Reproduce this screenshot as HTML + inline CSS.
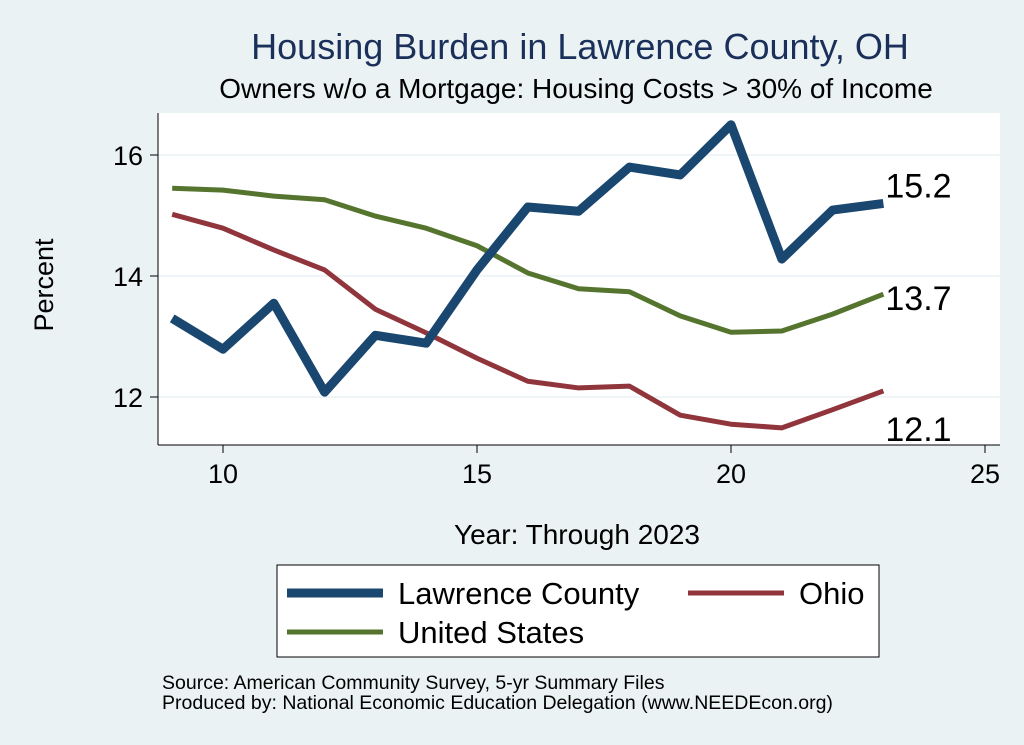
<!DOCTYPE html>
<html><head><meta charset="utf-8"><style>
body{margin:0;background:#eaf2f3;font-family:"Liberation Sans",sans-serif}
svg{display:block}
</style></head><body>
<svg id="c" width="1024" height="745" xmlns="http://www.w3.org/2000/svg">
<rect x="0" y="0" width="1024" height="745" fill="#eaf2f3"/>
<rect x="158" y="113" width="842" height="332" fill="#ffffff"/>
<text x="580" y="59" font-size="36" fill="#1a2f5a" text-anchor="middle">Housing Burden in Lawrence County, OH</text>
<text x="576" y="98" font-size="28" fill="#000" text-anchor="middle">Owners w/o a Mortgage: Housing Costs &gt; 30% of Income</text>
<text transform="translate(53,285) rotate(-90)" font-size="27" text-anchor="middle">Percent</text>
<text x="577" y="544" font-size="28" text-anchor="middle">Year: Through 2023</text>
<g id="grid"></g><g id="axes"></g><g id="series"></g>
<rect x="277" y="565" width="602" height="92" fill="#fff" stroke="#000" stroke-width="1"/>
<line x1="287" y1="593" x2="383" y2="593" stroke="#1a476f" stroke-width="9"/>
<text x="398" y="604" font-size="31">Lawrence County</text>
<line x1="688" y1="593" x2="784" y2="593" stroke="#90353b" stroke-width="5"/>
<text x="799" y="604" font-size="31">Ohio</text>
<line x1="287" y1="632" x2="383" y2="632" stroke="#55752f" stroke-width="5"/>
<text x="398" y="643" font-size="31">United States</text>
<text x="162" y="689" font-size="19.5">Source: American Community Survey, 5-yr Summary Files</text>
<text x="162" y="709" font-size="19.5">Produced by: National Economic Education Delegation (www.NEEDEcon.org)</text>
</svg>
<script>
const years=[9,10,11,12,13,14,15,16,17,18,19,20,21,22,23];
const lawrence=[13.3,12.79,13.55,12.08,13.02,12.89,14.1,15.14,15.07,15.8,15.67,16.5,14.28,15.09,15.2];
const ohio=[15.02,14.79,14.43,14.1,13.45,13.06,12.64,12.26,12.15,12.18,11.7,11.55,11.49,11.79,12.1];
const us=[15.45,15.42,15.32,15.26,14.99,14.79,14.5,14.05,13.79,13.74,13.34,13.07,13.09,13.37,13.7];
const xTicks=[10,15,20,25];
const yTicks=[12,14,16];
const NS="http://www.w3.org/2000/svg";
function X(v){return 223+(v-10)*50.8;}
function Y(v){return 397-(v-12)*60.5;}
function mk(t,a,p){const e=document.createElementNS(NS,t);for(const k in a)e.setAttribute(k,a[k]);document.getElementById(p).appendChild(e);return e;}
yTicks.forEach(t=>{
 const g=mk('line',{x1:158,x2:1000,y1:Y(t),y2:Y(t),stroke:'#eaf2f3','stroke-width':1.5},'grid');
 
 
 const k=mk('line',{x1:150,x2:158,y1:Y(t),y2:Y(t),stroke:'#000'},'axes');
 
 
 const l=mk('text',{x:143,y:Y(t)+10,'font-size':27,'text-anchor':'end'},'axes');l.textContent=t;
 
 
});
xTicks.forEach(t=>{
 const k=mk('line',{x1:X(t),x2:X(t),y1:445,y2:453,stroke:'#000'},'axes');
 
 
 const l=mk('text',{x:X(t),y:483,'font-size':27,'text-anchor':'middle'},'axes');l.textContent=t;
 
 
});
const ya=mk('line',{x1:158,x2:158,y1:113,y2:445,stroke:'#000'},'axes');


const xa=mk('line',{x1:158,x2:1000,y1:445,y2:445,stroke:'#000'},'axes');


function line(vals,col,w,name,lblDy){
 const p=mk('polyline',{points:vals.map((v,i)=>X(years[i])+','+Y(v)).join(' '),fill:'none',stroke:col,'stroke-width':w,'stroke-linejoin':'round'},'series');
 
 
 const last=vals[vals.length-1];
 const t=mk('text',{x:X(years[years.length-1])+2,y:Y(last)+lblDy,'font-size':34},'series');t.textContent=last.toFixed(1);
 
 
}
line(us,'#55752f',5,'us',16);
line(ohio,'#90353b',5,'ohio',50);
line(lawrence,'#1a476f',9,'lawrence',-6);
</script>
</body></html>
